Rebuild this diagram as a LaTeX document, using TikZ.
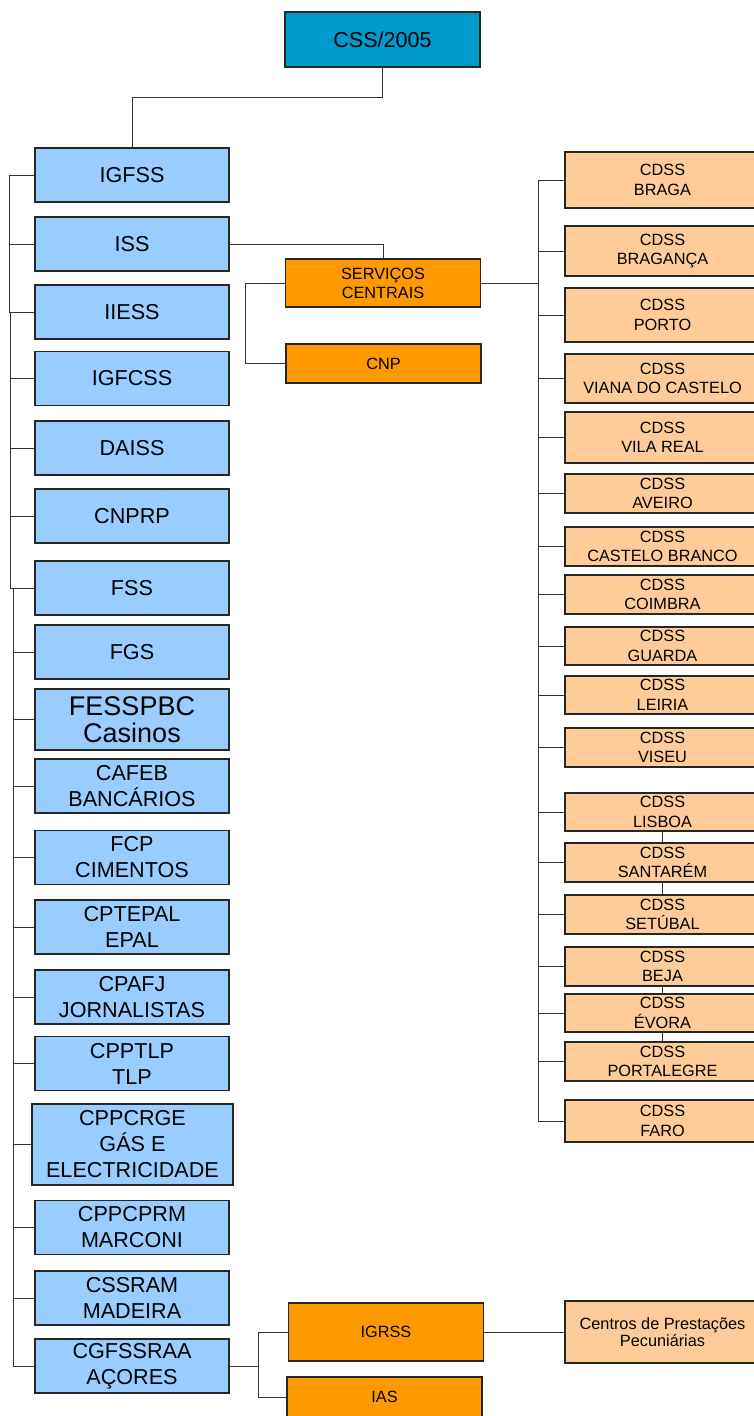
\documentclass[tikz,border=0pt]{standalone}
\usepackage{fontspec}
\setmainfont{Liberation Sans}
\usetikzlibrary{calc}

\definecolor{topblue}{HTML}{0099CC}
\definecolor{leftblue}{HTML}{99CCFF}
\definecolor{servorange}{HTML}{FF9900}
\definecolor{peach}{HTML}{FFCC99}

\begin{document}
\begin{tikzpicture}[x=1pt,y=-1pt,
    box/.style={draw=black!85,line width=1.3pt,inner sep=0pt,align=center},
    lbox/.style={box,fill=leftblue,minimum width=194,minimum height=54,font=\fontsize{21.6}{26}\selectfont},
    rbox/.style={box,fill=peach,minimum width=195,font=\fontsize{16.3}{19.5}\selectfont},
    obox/.style={box,fill=servorange,minimum width=195,font=\fontsize{16.3}{19}\selectfont},
    link/.style={draw=black!80,line width=0.9pt}]

    \useasboundingbox (0,0) rectangle (753,1416);

    % top
    \node[box,fill=topblue,line width=2.6pt,minimum width=195,minimum height=55,
          font=\fontsize{21.6}{26}\selectfont] (css) at (382.5,39.5) {CSS/2005};

    % left column
    \foreach \name/\y/\txt in {igfss/175/IGFSS, iss/244/ISS, iiess/312/IIESS,
            igfcss/378.5/IGFCSS, daiss/448/DAISS, cnprp/516/CNPRP, fss/588/FSS,
            fgs/652/FGS, cafeb/786/{CAFEB\\BANCÁRIOS}, fcp/857.5/{FCP\\CIMENTOS},
            cptepal/927/{CPTEPAL\\EPAL}, cpafj/997/{CPAFJ\\JORNALISTAS},
            cpptlp/1063.5/{CPPTLP\\TLP}, cppcprm/1227.5/{CPPCPRM\\MARCONI},
            cssram/1298/{CSSRAM\\MADEIRA}, cgfssraa/1366/{CGFSSRAA\\AÇORES}}
        \node[lbox] (\name) at (132,\y) {\txt};
    \node[lbox,minimum height=61,font=\fontsize{27}{27}\selectfont] (fesspbc) at (132,719.5) {FESSPBC\\Casinos};
    \node[lbox,minimum width=201,minimum height=81] (cppcrge) at (132.5,1144.5) {CPPCRGE\\GÁS E\\ELECTRICIDADE};

    % centre
    \node[obox,minimum height=48] (sc) at (383,283) {SERVIÇOS\\CENTRAIS};
    \node[obox,minimum height=39] (cnp) at (383.5,363.5) {CNP};
    \node[obox,minimum height=58] (igrss) at (386,1332) {IGRSS};
    \node[obox,minimum height=40] (ias) at (384.5,1397) {IAS};

    % right column
    \foreach \name/\y/\h/\txt in {braga/180/56/BRAGA, braganca/251/50/BRAGANÇA,
            porto/315/54/PORTO, viana/378.5/49/VIANA DO CASTELO,
            vilareal/437.5/51/VILA REAL, aveiro/493.5/39/AVEIRO,
            castelo/546.5/39/CASTELO BRANCO, coimbra/594.5/39/COIMBRA,
            guarda/646/38/GUARDA, leiria/695/38/LEIRIA, viseu/747.5/39/VISEU,
            lisboa/812/38/LISBOA, santarem/862.5/39/SANTARÉM,
            setubal/914.5/39/SETÚBAL, beja/966.5/39/BEJA, evora/1013/38/ÉVORA,
            portalegre/1061.5/39/PORTALEGRE, faro/1121/42/FARO}
        \node[rbox,minimum height=\h] (\name) at (662.5,\y) {CDSS\\\txt};
    \node[rbox,minimum height=62,font=\fontsize{16.3}{16.5}\selectfont] (centros) at (662.5,1332) {Centros de Prestações\\Pecuniárias};

    % connectors
    \draw[link] (css.south) -- ++(0,29) -| (igfss.north);
    \foreach \n in {iss,iiess}
        \draw[link] (igfss.west) -- ++(-25,0) |- (\n.west);
    \foreach \n in {igfcss,daiss,cnprp,fss}
        \draw[link] (iiess.west) -- ++(-24,0) |- (\n.west);
    \foreach \n in {fgs,fesspbc,cafeb,fcp,cptepal,cpafj,cpptlp,cppcrge,cppcprm,cssram,cgfssraa}
        \draw[link] (fss.west) -- ++(-21,0) |- (\n.west);

    \draw[link] (iss.east) -| (sc.north);
    \draw[link] (sc.west) -- ++(-39,0) |- (cnp.west);
    \foreach \n in {braga,braganca,porto,viana,vilareal,aveiro,castelo,coimbra,guarda,
            leiria,viseu,lisboa,santarem,setubal,beja,evora,portalegre,faro}
        \draw[link] (sc.east) -- ++(57,0) |- (\n.west);
    \draw[link] (lisboa.south) -- (santarem.north);
    \draw[link] (santarem.south) -- (setubal.north);
    \draw[link] (beja.south) -- (evora.north);
    \draw[link] (evora.south) -- (portalegre.north);

    \foreach \n in {igrss,ias}
        \draw[link] (cgfssraa.east) -- ++(29,0) |- (\n.west);
    \draw[link] (igrss.east) -- (centros.west);
\end{tikzpicture}
\end{document}
